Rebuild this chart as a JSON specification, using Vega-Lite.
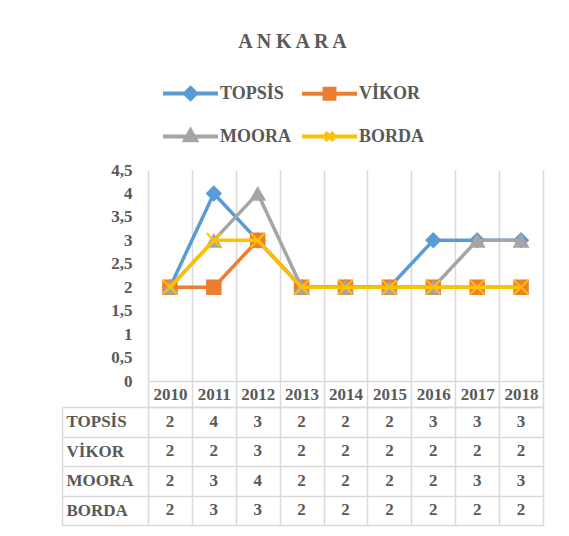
{
  "$schema": "https://vega.github.io/schema/vega-lite/v6.json",
  "padding": {"left": 61, "top": 32, "right": 10, "bottom": 5},
  "background": "white",
  "datasets": {
    "d": [
      {"year": "2010", "series": "TOPSİS", "value": 2},
      {"year": "2011", "series": "TOPSİS", "value": 4},
      {"year": "2012", "series": "TOPSİS", "value": 3},
      {"year": "2013", "series": "TOPSİS", "value": 2},
      {"year": "2014", "series": "TOPSİS", "value": 2},
      {"year": "2015", "series": "TOPSİS", "value": 2},
      {"year": "2016", "series": "TOPSİS", "value": 3},
      {"year": "2017", "series": "TOPSİS", "value": 3},
      {"year": "2018", "series": "TOPSİS", "value": 3},
      {"year": "2010", "series": "VİKOR", "value": 2},
      {"year": "2011", "series": "VİKOR", "value": 2},
      {"year": "2012", "series": "VİKOR", "value": 3},
      {"year": "2013", "series": "VİKOR", "value": 2},
      {"year": "2014", "series": "VİKOR", "value": 2},
      {"year": "2015", "series": "VİKOR", "value": 2},
      {"year": "2016", "series": "VİKOR", "value": 2},
      {"year": "2017", "series": "VİKOR", "value": 2},
      {"year": "2018", "series": "VİKOR", "value": 2},
      {"year": "2010", "series": "MOORA", "value": 2},
      {"year": "2011", "series": "MOORA", "value": 3},
      {"year": "2012", "series": "MOORA", "value": 4},
      {"year": "2013", "series": "MOORA", "value": 2},
      {"year": "2014", "series": "MOORA", "value": 2},
      {"year": "2015", "series": "MOORA", "value": 2},
      {"year": "2016", "series": "MOORA", "value": 2},
      {"year": "2017", "series": "MOORA", "value": 3},
      {"year": "2018", "series": "MOORA", "value": 3},
      {"year": "2010", "series": "BORDA", "value": 2},
      {"year": "2011", "series": "BORDA", "value": 3},
      {"year": "2012", "series": "BORDA", "value": 3},
      {"year": "2013", "series": "BORDA", "value": 2},
      {"year": "2014", "series": "BORDA", "value": 2},
      {"year": "2015", "series": "BORDA", "value": 2},
      {"year": "2016", "series": "BORDA", "value": 2},
      {"year": "2017", "series": "BORDA", "value": 2},
      {"year": "2018", "series": "BORDA", "value": 2}
    ]
  },
  "data": {"name": "d"},
  "title": {
    "text": "A N K A R A",
    "fontSize": 20,
    "fontWeight": "bold",
    "font": "Liberation Serif",
    "color": "#595959",
    "anchor": "middle",
    "dx": -10,
    "offset": 12
  },
  "bounds": "flush",
  "spacing": 26,
  "resolve": {"scale": {"x": "independent", "y": "independent"}},
  "vconcat": [
    {
      "width": 395,
      "height": 211,
      "encoding": {
        "x": {
          "field": "year",
          "type": "ordinal",
          "scale": {"paddingInner": 0, "paddingOuter": 0},
          "axis": {
            "title": null,
            "labelAngle": 0,
            "labelFontSize": 17,
            "labelFontWeight": "bold",
            "labelColor": "#595959",
            "labelBaseline": "middle",
            "labelPadding": -13,
            "tickBand": "extent",
            "ticks": true,
            "tickSize": 26,
            "tickColor": "#D9D9D9",
            "tickWidth": 1.5,
            "domainColor": "#D9D9D9",
            "domainWidth": 1.5,
            "grid": true,
            "gridColor": "#D9D9D9",
            "gridWidth": 1.5
          }
        },
        "y": {
          "field": "value",
          "type": "quantitative",
          "scale": {"domain": [0, 4.5], "nice": false, "zero": true},
          "axis": {
            "title": null,
            "values": [0, 0.5, 1, 1.5, 2, 2.5, 3, 3.5, 4, 4.5],
            "format": "~g",
            "labelExpr": "replace(datum.label, '.', ',')",
            "domain": false,
            "ticks": false,
            "grid": false,
            "labelPadding": 16,
            "labelFontSize": 17,
            "labelFontWeight": "bold",
            "labelColor": "#595959"
          }
        },
        "color": {
          "field": "series",
          "type": "nominal",
          "scale": {
            "domain": ["TOPSİS", "VİKOR", "MOORA", "BORDA"],
            "range": ["#5B9BD5", "#ED7D31", "#A5A5A5", "#FFC000"]
          },
          "legend": {
            "title": null,
            "orient": "none",
            "legendX": 13,
            "legendY": -106,
            "direction": "horizontal",
            "columns": 2,
            "labelFont": "Liberation Serif",
            "labelFontSize": 18,
            "labelFontWeight": "bold",
            "labelColor": "#595959",
            "labelOffset": 0,
            "columnPadding": 3,
            "rowPadding": -11,
            "symbolSize": 3025,
            "symbolStrokeWidth": 4,
            "labelLimit": 0,
            "encode": {
              "labels": {
                "update": {
                  "font": {"value": "Liberation Serif"},
                  "fontWeight": {"value": "bold"}
                }
              },
              "symbols": {
                "update": {
                  "shape": {"signal": "datum.value === 'TOPSİS' ? 'M-1,0H1M0,-0.2L0.2,0L0,0.2L-0.2,0Z' : datum.value === 'VİKOR' ? 'M-1,0H1M-0.18,-0.18H0.18V0.18H-0.18Z' : datum.value === 'MOORA' ? 'M-1,0H1M0,-0.22L0.2,0.14H-0.2Z' : 'M-1,0H1M-0.15,-0.15L0.15,0.15M-0.15,0.15L0.15,-0.15'"},
                  "fill": {"scale": "color", "field": "value"},
                  "stroke": {"scale": "color", "field": "value"},
                  "strokeWidth": {"value": 4},
                  "size": {"value": 3025},
                  "opacity": {"value": 1}
                }
              }
            }
          }
        }
      },
      "layer": [
        {"transform": [{"filter": "datum.series === 'TOPSİS'"}], "mark": {"type": "line", "strokeWidth": 3.5, "strokeJoin": "round"}},
        {"transform": [{"filter": "datum.series === 'TOPSİS'"}], "mark": {"type": "point", "shape": "diamond", "size": 270, "filled": true, "opacity": 1}},
        {"transform": [{"filter": "datum.series === 'VİKOR'"}], "mark": {"type": "line", "strokeWidth": 3.5, "strokeJoin": "round"}},
        {"transform": [{"filter": "datum.series === 'VİKOR'"}], "mark": {"type": "point", "shape": "square", "size": 240, "filled": true, "opacity": 1}},
        {"transform": [{"filter": "datum.series === 'MOORA'"}], "mark": {"type": "line", "strokeWidth": 3.5, "strokeJoin": "round"}},
        {"transform": [{"filter": "datum.series === 'MOORA'"}], "mark": {"type": "point", "shape": "triangle-up", "size": 290, "filled": true, "opacity": 1}},
        {"transform": [{"filter": "datum.series === 'BORDA'"}], "mark": {"type": "line", "strokeWidth": 3.5, "strokeJoin": "round"}},
        {"transform": [{"filter": "datum.series === 'BORDA'"}], "mark": {"type": "point", "shape": "M-1,-1L1,1M-1,1L1,-1", "size": 200, "filled": false, "strokeWidth": 2, "opacity": 1}}
      ]
    },
    {
      "width": 395,
      "height": 118,
      "mark": {"type": "text", "fontSize": 17, "fontWeight": "bold", "color": "#595959", "font": "Liberation Serif"},
      "encoding": {
        "x": {
          "field": "year",
          "type": "ordinal",
          "scale": {"paddingInner": 0, "paddingOuter": 0},
          "axis": {
            "orient": "top",
            "title": null,
            "labels": false,
            "ticks": false,
            "domain": true,
            "domainColor": "#D9D9D9",
            "domainWidth": 1.5,
            "grid": true,
            "gridColor": "#D9D9D9",
            "gridWidth": 1.5,
            "tickBand": "extent"
          }
        },
        "y": {
          "field": "series",
          "type": "nominal",
          "sort": ["TOPSİS", "VİKOR", "MOORA", "BORDA"],
          "scale": {"paddingInner": 0, "paddingOuter": 0},
          "axis": {
            "title": null,
            "offset": 86,
            "tickSize": -86,
            "tickBand": "extent",
            "tickColor": "#D9D9D9",
            "tickWidth": 1.5,
            "domainColor": "#D9D9D9",
            "domainWidth": 1.5,
            "grid": true,
            "gridColor": "#D9D9D9",
            "gridWidth": 1.5,
            "labelAlign": "left",
            "labelPadding": 82,
            "labelFontSize": 17,
            "labelFontWeight": "bold",
            "labelColor": "#595959"
          }
        },
        "text": {"field": "value", "type": "quantitative"}
      }
    }
  ],
  "config": {
    "font": "Liberation Serif",
    "view": {"stroke": null}
  }
}
